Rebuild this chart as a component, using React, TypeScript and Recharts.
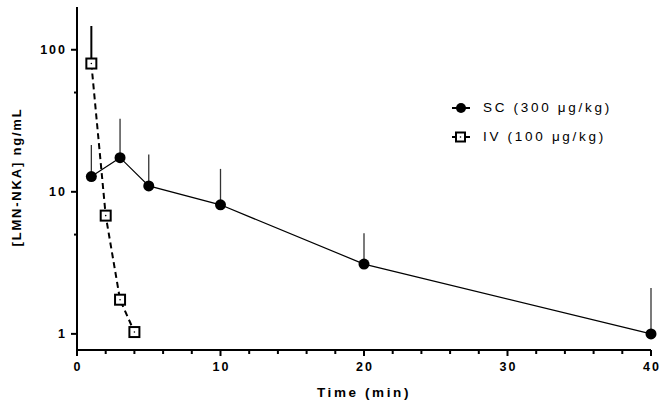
import { ComposedChart, Line, XAxis, YAxis, ErrorBar } from 'recharts';

// SC dosing (300 µg/kg)
const SC_TIME = [1, 3, 5, 10, 20, 40];
const SC_CONC = [12.8, 17.4, 11.0, 8.1, 3.1, 1.0];
const SC_SD = [8.6, 15.3, 7.3, 6.4, 2.0, 1.1];

// IV dosing (100 µg/kg)
const IV_TIME = [1, 2, 3, 4];
const IV_CONC = [80, 6.8, 1.74, 1.03];
const IV_SD = [67, 0, 0, 0];

const X_TICKS = [0, 2, 4, 6, 8, 10, 12, 14, 16, 18, 20, 22, 24, 26, 28, 30, 32, 34, 36, 38, 40];
const X_LABELS = [0, 10, 20, 30, 40];
const Y_TICKS = [1, 5, 10, 50, 100];
const Y_LABELS = [1, 10, 100];

const scData = SC_TIME.map((t, i) => ({ t, conc: SC_CONC[i], err: [0, SC_SD[i]] }));
const ivData = IV_TIME.map((t, i) => ({ t, conc: IV_CONC[i], err: [0, IV_SD[i]] }));

const FONT = '"Liberation Sans", Arial, sans-serif';

const CircleDot = (props: any) => {
  const { cx, cy } = props;
  if (cx == null || cy == null) return null;
  return <circle cx={cx} cy={cy} r={5.5} fill="#000" />;
};

const SquareDot = (props: any) => {
  const { cx, cy } = props;
  if (cx == null || cy == null) return null;
  return (
    <g>
      <rect x={cx - 5} y={cy - 5} width={10} height={10} fill="#fff" stroke="#000" strokeWidth={2} />
      <circle cx={cx} cy={cy} r={0.8} fill="#000" />
    </g>
  );
};

const YTick = (props: any) => {
  const { x, y, payload } = props;
  const major = Y_LABELS.includes(payload.value);
  return (
    <g>
      <line x1={x - (major ? 6 : 3)} x2={x} y1={y} y2={y} stroke="#000" strokeWidth={2} />
      {major && (
        <text x={x - 10} y={y} dy={4.5} textAnchor="end" fontFamily={FONT} fontWeight="bold" fontSize={12.5} letterSpacing={2} fill="#000">
          {payload.value}
        </text>
      )}
    </g>
  );
};

const XTick = (props: any) => {
  const { x, y, payload } = props;
  const major = X_LABELS.includes(payload.value);
  return (
    <g>
      <line x1={x} x2={x} y1={y} y2={y + (major ? 6 : 4)} stroke="#000" strokeWidth={2} />
      {major && (
        <text x={x + 1} y={y + 21} textAnchor="middle" fontFamily={FONT} fontWeight="bold" fontSize={12.5} letterSpacing={2} fill="#000">
          {payload.value}
        </text>
      )}
    </g>
  );
};

function LegendRow({ label, square }: { label: string; square?: boolean }) {
  return (
    <div style={{ display: 'flex', alignItems: 'center', height: 29 }}>
      <svg width={22} height={14}>
        <line x1={2} x2={20} y1={7} y2={7} stroke="#000" strokeWidth={2} />
        {square ? (
          <g>
            <rect x={6} y={2.5} width={9} height={9} fill="#fff" stroke="#000" strokeWidth={2} />
            <circle cx={10.5} cy={7} r={0.8} fill="#000" />
          </g>
        ) : (
          <circle cx={11} cy={7} r={5} fill="#000" />
        )}
      </svg>
      <span style={{ marginLeft: 11, fontFamily: FONT, fontSize: 13.5, letterSpacing: 2.7, color: '#000' }}>{label}</span>
    </div>
  );
}

export default function App() {
  return (
    <div style={{ position: 'absolute', left: 0, top: 0, width: 664, height: 406, background: '#fff' }}>
      <ComposedChart width={664} height={406} margin={{ top: 7, right: 13, bottom: 6, left: 0 }}>
        <XAxis
          type="number"
          dataKey="t"
          domain={[0, 40]}
          ticks={X_TICKS}
          interval={0}
          tickSize={0}
          tickMargin={0}
          tickLine={false}
          tick={<XTick />}
          axisLine={{ stroke: '#000', strokeWidth: 2 }}
          height={50}
          allowDuplicatedCategory={false}
        />
        <YAxis
          type="number"
          scale="log"
          domain={[0.77, 200]}
          allowDataOverflow
          ticks={Y_TICKS}
          interval={0}
          tickSize={0}
          tickMargin={0}
          tickLine={false}
          tick={<YTick />}
          axisLine={{ stroke: '#000', strokeWidth: 2 }}
          width={77}
        />
        <Line
          data={scData}
          dataKey="conc"
          type="linear"
          stroke="#000"
          strokeWidth={1.2}
          dot={<CircleDot />}
          activeDot={false}
          isAnimationActive={false}
        >
          <ErrorBar dataKey="err" direction="y" width={0} stroke="#333" strokeWidth={1.3} />
        </Line>
        <Line
          data={ivData}
          dataKey="conc"
          type="linear"
          stroke="#000"
          strokeWidth={2}
          strokeDasharray="6 4"
          dot={<SquareDot />}
          activeDot={false}
          isAnimationActive={false}
        >
          <ErrorBar dataKey="err" direction="y" width={0} stroke="#000" strokeWidth={2} />
        </Line>
      </ComposedChart>
      <div
        style={{
          position: 'absolute',
          left: 5,
          top: 177,
          transform: 'translate(-50%, -50%) rotate(-90deg)',
          transformOrigin: 'center',
          whiteSpace: 'nowrap',
          fontFamily: FONT,
          fontWeight: 'bold',
          fontSize: 13,
          letterSpacing: 1.8,
          marginLeft: 11,
        }}
      >
        [LMN-NKA] ng/mL
      </div>
      <div
        style={{
          position: 'absolute',
          left: 364,
          top: 392,
          transform: 'translate(-50%, -50%)',
          whiteSpace: 'nowrap',
          fontFamily: FONT,
          fontWeight: 'bold',
          fontSize: 13.5,
          letterSpacing: 2.6,
        }}
      >
        Time (min)
      </div>
      <div style={{ position: 'absolute', left: 450, top: 93 }}>
        <LegendRow label="SC (300 μg/kg)" />
        <LegendRow label="IV (100 μg/kg)" square />
      </div>
    </div>
  );
}
